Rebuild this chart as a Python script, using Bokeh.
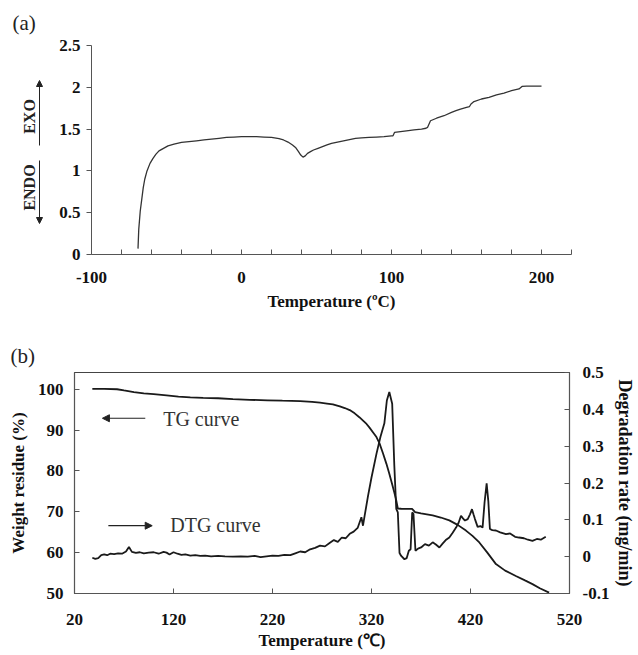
import math
from bokeh.plotting import figure
from bokeh.layouts import column, row
from bokeh.models import Range1d, LinearAxis, FixedTicker, Label, Arrow, NormalHead
from bokeh.core.properties import value
from bokeh.embed import file_html
from bokeh.resources import INLINE

FONT = "Liberation Serif"

# ---------------- panel (a): DSC ----------------
dsc_temp = [-69, -68.5, -67.5, -66.5, -65.5, -64.5, -63, -61, -59, -57, -55, -52, -49, -45,
            -40, -35, -30, -25, -20, -15, -10, -5, 0, 5, 10, 15, 20, 25, 28, 31, 34, 36, 38,
            39.5, 41, 42.5, 44, 46, 48, 51, 54, 57, 60, 64, 68, 72, 76, 80, 85, 90, 95, 100,
            101, 102, 106, 110, 115, 120, 123, 124, 126, 130, 135, 140, 143, 146, 150, 152,
            153, 155, 160, 165, 170, 175, 180, 185, 187, 190, 195, 200]
dsc_heat = [0.07, 0.30, 0.52, 0.66, 0.80, 0.90, 1.00, 1.09, 1.15, 1.20, 1.24, 1.27, 1.30, 1.32,
            1.34, 1.35, 1.36, 1.37, 1.38, 1.39, 1.40, 1.405, 1.41, 1.41, 1.41, 1.405, 1.40, 1.385,
            1.37, 1.345, 1.31, 1.28, 1.23, 1.19, 1.165, 1.18, 1.21, 1.23, 1.25, 1.27, 1.29, 1.31,
            1.33, 1.345, 1.36, 1.375, 1.39, 1.395, 1.40, 1.405, 1.41, 1.42, 1.42, 1.46, 1.47,
            1.48, 1.49, 1.50, 1.51, 1.52, 1.60, 1.63, 1.66, 1.70, 1.72, 1.74, 1.76, 1.77, 1.80,
            1.83, 1.86, 1.88, 1.91, 1.93, 1.96, 1.98, 2.01, 2.015, 2.015, 2.015]
a_xticks = [-100, 0, 100, 200]
a_xlabels = ["-100", "0", "100", "200"]
a_xminor = [-80, -60, -40, -20, 20, 40, 60, 80, 120, 140, 160, 180, 220]
a_yticks = [0, 0.5, 1, 1.5, 2, 2.5]
a_ylabels = ["0", "0.5", "1", "1.5", "2", "2.5"]

# ---------------- panel (b): TG / DTG ----------------
tg_temp = [38, 50, 63, 70, 80, 90, 100, 113, 125, 137, 150, 165, 180, 197, 215, 230, 248, 260,
           268, 275, 281, 288, 293, 298, 303, 308, 312, 315, 318, 322, 325, 328, 331.5, 335, 338,
           341, 343, 345, 346.6, 350, 355, 361, 364, 370, 381.8, 390, 398.6, 407, 415.4, 422,
           428.9, 437, 445.7, 455, 465.8, 475, 482.6, 490, 499.4]
tg_weight = [100.1, 100.1, 100.0, 99.7, 99.3, 99.0, 98.8, 98.5, 98.2, 98.0, 97.9, 97.8, 97.6,
             97.4, 97.3, 97.2, 97.1, 96.9, 96.7, 96.5, 96.3, 95.8, 95.4, 94.9, 94.1, 93.1, 92.2,
             91.5, 90.6, 89.3, 88.3, 86.8, 84.4, 81.8, 79.3, 76.6, 74.8, 72.8, 70.8, 70.75, 70.7,
             70.7, 69.9, 69.6, 69.1, 68.6, 67.9, 66.8, 65.4, 64.1, 62.5, 60.0, 57.2, 55.6, 54.3,
             53.2, 52.3, 51.3, 50.2]

dtg_temp = [38, 41, 44, 47, 50, 53, 56, 60, 64, 68, 72, 75, 78, 82, 86, 90, 95, 100, 105, 110,
            113, 116, 120, 124, 128, 132, 137, 142, 147, 152, 158, 165, 172, 180, 188, 195, 202,
            208, 214, 220, 226, 232, 238, 243, 248, 253, 258, 263, 268, 273, 278, 282, 286, 290,
            294, 298, 302, 306, 309.8, 311.4, 313, 316.5, 320, 325, 329, 333, 335.5, 338, 340.9,
            343, 345, 346.6, 348.3, 350, 353.3, 355.5, 357.7, 359.5, 361.1, 362.4, 364.4, 367,
            370.1, 374, 378, 381.8, 385, 388.6, 392, 395, 398.6, 402, 405.4, 408, 410.4, 412.4,
            414.4, 417.2, 419.5, 421.5, 423, 424.5, 427.2, 430, 432.2, 434.2, 436.3, 438, 439.6,
            442, 445.7, 450, 455.8, 460, 465, 469.1, 474, 478, 482.6, 487, 491, 496]
dtg_rate = [-0.003, -0.006, -0.004, 0.004, 0.006, 0.004, 0.008, 0.007, 0.009, 0.008, 0.014, 0.026,
            0.013, 0.010, 0.012, 0.009, 0.011, 0.012, 0.008, 0.013, 0.011, 0.006, 0.012, 0.008,
            0.005, 0.006, 0.003, 0.004, 0.002, 0.003, 0.001, 0.002, 0.001, 0.000, 0.001, 0.000,
            0.002, -0.001, 0.001, 0.003, 0.002, 0.005, 0.004, 0.009, 0.014, 0.012, 0.020, 0.024,
            0.030, 0.028, 0.038, 0.045, 0.040, 0.052, 0.050, 0.062, 0.068, 0.078, 0.107, 0.084,
            0.110, 0.165, 0.215, 0.279, 0.325, 0.362, 0.424, 0.447, 0.415, 0.25, 0.13, 0.12,
            0.010, 0.002, -0.007, -0.004, 0.016, 0.020, 0.120, 0.116, 0.016, 0.022, 0.025, 0.034,
            0.030, 0.039, 0.033, 0.025, 0.036, 0.045, 0.052, 0.065, 0.079, 0.092, 0.111, 0.104,
            0.098, 0.102, 0.115, 0.129, 0.115, 0.102, 0.081, 0.083, 0.079, 0.147, 0.199, 0.151,
            0.075, 0.072, 0.071, 0.066, 0.061, 0.063, 0.054, 0.052, 0.050, 0.046, 0.043, 0.048,
            0.046, 0.054]
b_xticks = [20, 120, 220, 320, 420, 520]
b_yticks = [50, 60, 70, 80, 90, 100]
b_rticks = [-0.1, 0, 0.1, 0.2, 0.3, 0.4, 0.5]
b_rlabels = ["-0.1", "0", "0.1", "0.2", "0.3", "0.4", "0.5"]

INK = "#222222"


def style_axis(ax, label_size="17px"):
    ax.major_label_text_font = FONT
    ax.major_label_text_font_style = "bold"
    ax.major_label_text_font_size = "17px"
    ax.major_label_text_color = "#111111"
    ax.axis_label_text_font = FONT
    ax.axis_label_text_font_style = "bold"
    ax.axis_label_text_font_size = label_size
    ax.axis_label_text_color = "#111111"
    ax.axis_line_color = "#555555"
    ax.major_tick_line_color = "#555555"
    ax.minor_tick_line_color = "#555555"


TOP_H = 335

# ---------- helper strip on the left (panel letter, EXO / ENDO) ----------
side = figure(width=55, height=TOP_H, x_range=Range1d(0, 55), y_range=Range1d(0, TOP_H),
              output_backend="svg", toolbar_location=None,
              min_border_left=0, min_border_right=0, min_border_top=0, min_border_bottom=0)
side.axis.visible = False
side.grid.visible = False
side.outline_line_color = None
side.frame_align = False
side.text(x=[12], y=[TOP_H - 22], text=["(a)"], text_font=value(FONT),
          text_font_size="21px", text_baseline="middle", text_align="left", text_color=INK)
side.text(x=[29, 29], y=[TOP_H - 116, TOP_H - 187], text=["EXO", "ENDO"], angle=math.pi / 2,
          text_font=value(FONT), text_font_style="bold", text_font_size="16px",
          text_baseline="middle", text_align="center", text_color=INK)
side.add_layout(Arrow(end=NormalHead(size=6, fill_color=INK, line_color=INK),
                      x_start=39, y_start=TOP_H - 145, x_end=39, y_end=TOP_H - 80,
                      line_color=INK, line_width=1))
side.add_layout(Arrow(end=NormalHead(size=6, fill_color=INK, line_color=INK),
                      x_start=39, y_start=TOP_H - 160, x_end=39, y_end=TOP_H - 223,
                      line_color=INK, line_width=1))

# ---------- figure (a) ----------
pa = figure(width=583, height=TOP_H, x_range=Range1d(-100, 220), y_range=Range1d(0, 2.5),
            output_backend="svg", toolbar_location=None,
            min_border_left=36, min_border_right=67, min_border_top=45,
            min_border_bottom=TOP_H - 254)
pa.frame_align = False
pa.outline_line_color = None
pa.grid.visible = False
pa.line(dsc_temp, dsc_heat, line_color="#333333", line_width=1.3)

xa = pa.xaxis[0]
xa.ticker = FixedTicker(ticks=a_xticks, minor_ticks=a_xminor)
xa.major_label_overrides = {t: l for t, l in zip(a_xticks, a_xlabels)}
xa.major_tick_in = 5
xa.major_tick_out = 0
xa.minor_tick_in = 5
xa.minor_tick_out = 0
xa.major_label_standoff = 17
xa.axis_label = "Temperature (ºC)"
xa.axis_label_standoff = 6
style_axis(xa)

ya = pa.yaxis[0]
ya.ticker = FixedTicker(ticks=a_yticks, minor_ticks=[])
ya.major_label_overrides = {t: l for t, l in zip(a_yticks, a_ylabels)}
ya.major_tick_in = 0
ya.major_tick_out = 5
ya.major_label_standoff = 6
style_axis(ya)

# ---------- figure (b) ----------
pb = figure(width=638, height=655 - TOP_H, x_range=Range1d(20, 520), y_range=Range1d(50, 104.1),
            output_backend="svg", toolbar_location=None, title="(b)",
            min_border_left=74, min_border_right=68, min_border_top=372 - TOP_H,
            min_border_bottom=62)
pb.frame_align = False
pb.title.text_font = FONT
pb.title.text_font_style = "normal"
pb.title.text_font_size = "21px"
pb.title.text_color = INK
pb.title.align = "left"
pb.title.offset = -64
pb.title.standoff = 10
pb.extra_y_ranges = {"rate": Range1d(-0.1, 0.5)}
pb.outline_line_color = "#444444"
pb.outline_line_width = 1.2
pb.grid.visible = False

pb.line(tg_temp, tg_weight, line_color="#1a1a1a", line_width=1.8)
pb.line(dtg_temp, dtg_rate, y_range_name="rate", line_color="#1a1a1a", line_width=1.8)

xb = pb.xaxis[0]
xb.ticker = FixedTicker(ticks=b_xticks, minor_ticks=[])
xb.major_tick_in = 5
xb.major_tick_out = 0
xb.major_label_standoff = 20
xb.axis_label = "Temperature (℃)"
xb.axis_label_standoff = 3
style_axis(xb)

yb = pb.yaxis[0]
yb.ticker = FixedTicker(ticks=b_yticks, minor_ticks=[])
yb.major_tick_in = 5
yb.major_tick_out = 0
yb.major_label_standoff = 11
yb.axis_label = "Weight residue (%)"
yb.axis_label_standoff = 7
style_axis(yb)

rb = LinearAxis(y_range_name="rate", ticker=FixedTicker(ticks=b_rticks, minor_ticks=[]),
                axis_label="Degradation rate (mg/min)")
rb.major_label_overrides = {t: l for t, l in zip(b_rticks, b_rlabels)}
rb.major_tick_in = 5
rb.major_tick_out = 0
rb.major_label_standoff = 13
rb.axis_label_standoff = 3
style_axis(rb, label_size="18px")
pb.add_layout(rb, "right")

pb.add_layout(Arrow(end=NormalHead(size=7, fill_color=INK, line_color=INK),
                    x_start=91.5, y_start=92.9, x_end=48.2, y_end=92.9,
                    line_color=INK, line_width=1.2))
pb.add_layout(Label(x=109.6, y=92.8, text="TG curve", text_font=FONT, text_font_size="20px",
                    text_baseline="middle", text_align="left", text_color="#333333"))
pb.add_layout(Arrow(end=NormalHead(size=7, fill_color=INK, line_color=INK),
                    x_start=54.2, y_start=66.6, x_end=98.5, y_end=66.6,
                    line_color=INK, line_width=1.2))
pb.add_layout(Label(x=116.7, y=66.7, text="DTG curve", text_font=FONT, text_font_size="20px",
                    text_baseline="middle", text_align="left", text_color="#333333"))

layout = column(row(side, pa), pb)
open("out.html", "w").write(file_html(layout, INLINE))
